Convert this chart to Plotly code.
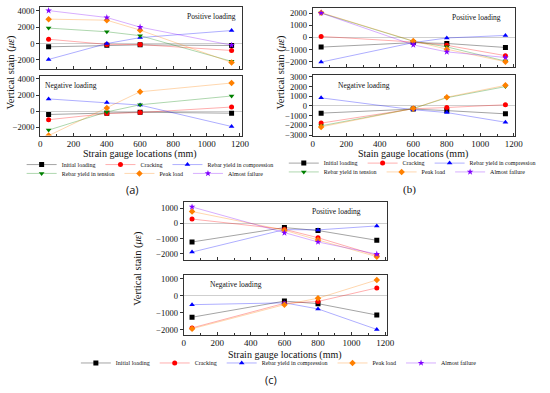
import plotly.graph_objects as go

W, H = 550, 393

# ---------------- data ----------------
x_a = [50, 400, 600, 1150]
x_b = [50, 600, 800, 1150]
x_c = [50, 600, 800, 1150]

series_names = ["Initial loading", "Cracking", "Rebar yield in compression",
                "Rebar yield in tension", "Peak load", "Almost failure"]
series_colors = ["#000000", "#ff0000", "#0000ff", "#008000", "#ff8000", "#8000ff"]
series_lines = ["rgba(0,0,0,0.45)", "rgba(255,0,0,0.4)", "rgba(0,0,255,0.4)",
                "rgba(0,128,0,0.4)", "rgba(255,128,0,0.4)", "rgba(128,0,255,0.4)"]
series_symbols = ["square", "circle", "triangle-up", "triangle-down", "diamond", "star"]

# panel (a) positive loading
a_pos_initial = [-400, -200, -160, -240]
a_pos_cracking = [530, -100, -120, -850]
a_pos_compression = [-1950, 0, 730, 1600]
a_pos_tension = [1900, 1450, 970, -2180]
a_pos_peak = [3000, 2870, 1650, -2320]
a_pos_failure = [4050, 3200, 2020, -200]
# panel (a) negative loading
a_neg_initial = [-400, -240, -120, -240]
a_neg_cracking = [-1040, -280, -160, 520]
a_neg_compression = [1520, 1080, 760, -1880]
a_neg_tension = [-2320, -80, 800, 1880]
a_neg_peak = [-3000, 400, 2400, 3480]

# panel (b) positive loading
b_pos_initial = [-800, -430, -500, -830]
b_pos_cracking = [80, -380, -650, -1500]
b_pos_compression = [-2030, -430, -50, 160]
b_pos_tension = [2000, -320, -780, -1950]
b_pos_peak = [2030, -300, -970, -2000]
b_pos_failure = [2000, -620, -1190, -1650]
# panel (b) negative loading
b_neg_initial = [-740, -320, -480, -810]
b_neg_cracking = [-1770, -290, -160, 130]
b_neg_compression = [840, -390, -680, -1680]
b_neg_tension = [-2050, -260, 850, 2000]
b_neg_peak = [-2160, -260, 900, 2130]

# panel (c) positive loading
c_pos_initial = [-1220, -280, -470, -1110]
c_pos_cracking = [280, -390, -940, -2100]
c_pos_compression = [-1880, -410, -430, -170]
c_pos_peak = [770, -450, -1090, -2180]
c_pos_failure = [1070, -620, -1220, -2010]
# panel (c) negative loading
c_neg_initial = [-1270, -320, -470, -1140]
c_neg_cracking = [-1900, -450, -340, 460]
c_neg_compression = [-530, -420, -780, -1990]
c_neg_peak = [-1950, -530, -150, 930]

y_ticks_a = [-2000, 0, 2000, 4000]
y_ticks_bc = [-3000, -2000, -1000, 0, 1000, 2000, 3000]
x_ticks = [0, 200, 400, 600, 800, 1000, 1200]

# ---------------- layout helpers ----------------
def fx(p):
    return p / W

def fy(p):
    return 1 - p / H

SERIF = "Liberation Serif"

panels = [
    dict(x=x_a,
         pos=[a_pos_initial, a_pos_cracking, a_pos_compression, a_pos_tension, a_pos_peak, a_pos_failure],
         neg=[a_neg_initial, a_neg_cracking, a_neg_compression, a_neg_tension, a_neg_peak, None],
         xd=(39, 244), top=(4, 67), bot=(74.7, 135),
         rtop=[-3100, 4500], rbot=[-3000, 4300], ticks=y_ticks_a,
         legends=["legend", "legend", "legend", "legend2", "legend2", "legend2"],
         xtitle="Strain gauge locations (mm)"),
    dict(x=x_b,
         pos=[b_pos_initial, b_pos_cracking, b_pos_compression, b_pos_tension, b_pos_peak, b_pos_failure],
         neg=[b_neg_initial, b_neg_cracking, b_neg_compression, b_neg_tension, b_neg_peak, None],
         xd=(316.5, 523), top=(5, 65), bot=(73.3, 135),
         rtop=[-2420, 2420], rbot=[-3060, 3200], ticks=y_ticks_bc,
         legends=["legend3", "legend3", "legend3", "legend4", "legend4", "legend4"],
         xtitle="Stain gauge locations (mm)"),
    dict(x=x_c,
         pos=[c_pos_initial, c_pos_cracking, c_pos_compression, None, c_pos_peak, c_pos_failure],
         neg=[c_neg_initial, c_neg_cracking, c_neg_compression, None, c_neg_peak, None],
         xd=(185, 392), top=(202.5, 261.7), bot=(277.3, 337.7),
         rtop=[-2400, 1400], rbot=[-2300, 1200], ticks=y_ticks_bc,
         legends=["legend5"] * 6,
         xtitle="Strain gauge locations (mm)"),
]

fig = go.Figure()
layout = {}
annotations = []

ax_i = 0
for pi, p in enumerate(panels):
    for part in ("pos", "neg"):
        ax_i += 1
        xa = "x" if ax_i == 1 else f"x{ax_i}"
        ya = "y" if ax_i == 1 else f"y{ax_i}"
        xkey = "xaxis" if ax_i == 1 else f"xaxis{ax_i}"
        ykey = "yaxis" if ax_i == 1 else f"yaxis{ax_i}"
        vert = p["top"] if part == "pos" else p["bot"]
        rng = p["rtop"] if part == "pos" else p["rbot"]
        bottom = part == "neg"
        layout[xkey] = dict(
            domain=[fx(p["xd"][0]), fx(p["xd"][1])], anchor=ya,
            range=[0, 1210], tickvals=x_ticks, showticklabels=bottom,
            ticks="inside", ticklen=3, tickwidth=0.8, tickcolor="#333",
            minor=dict(dtick=100, ticks="inside", ticklen=2, tickwidth=0.6, tickcolor="#333"),
            showline=True, mirror=True, linecolor="#333", linewidth=1,
            showgrid=False, zeroline=False,
            tickfont=dict(family=SERIF, size=9, color="#111"),
        )
        layout[ykey] = dict(
            domain=[fy(vert[1]), fy(vert[0])], anchor=xa,
            range=rng, tickvals=p["ticks"],
            ticks="outside", ticklen=3, tickwidth=0.8, tickcolor="#333",
            showline=True, mirror=True, linecolor="#333", linewidth=1,
            showgrid=False, zeroline=True, zerolinecolor="#cfcfcf", zerolinewidth=0.8,
            tickfont=dict(family=SERIF, size=8.5, color="#111"),
        )
        for si in range(6):
            vals = p[part][si]
            if vals is None:
                continue
            fig.add_trace(go.Scatter(
                x=p["x"], y=vals, xaxis=xa, yaxis=ya,
                mode="lines+markers", name=series_names[si],
                line=dict(color=series_lines[si], width=0.8),
                marker=dict(color=series_colors[si], symbol=series_symbols[si],
                            size=5, line=dict(width=0)),
                legend=p["legends"][si], legendgroup=f"p{pi}s{si}",
                showlegend=(part == "pos"),
            ))

layout_common = dict(
    width=W, height=H, margin=dict(l=0, r=0, t=0, b=0),
    paper_bgcolor="white", plot_bgcolor="white",
    font=dict(family=SERIF, color="#111"),
)

leg_font = dict(family=SERIF, size=6, color="#111")
def leg(xp, yp, xanchor="left"):
    return dict(x=fx(xp), y=fy(yp), xanchor=xanchor, yanchor="middle",
                orientation="h", font=leg_font, itemwidth=30,
                bgcolor="rgba(0,0,0,0)", borderwidth=0, tracegroupgap=0)

layout_common["legend"] = leg(20, 164.5)
layout_common["legend2"] = leg(20, 173.5)
layout_common["legend3"] = leg(287, 163)
layout_common["legend4"] = leg(287, 172)
layout_common["legend5"] = leg(282, 366.5, "center")

def ann(text, xp, yp, size, family=SERIF, angle=0, xanchor="center"):
    annotations.append(dict(text=text, x=fx(xp), y=fy(yp), xref="paper", yref="paper",
                            showarrow=False, xanchor=xanchor, yanchor="middle",
                            textangle=angle, font=dict(family=family, size=size, color="#111")))

ann("Positive loading", 213, 14, 7.5)
ann("Negative loading", 70, 84, 7.5)
ann("Positive loading", 483, 15, 7.5)
ann("Negative loading", 369, 84, 7.5)
ann("Positive loading", 341, 212, 7.5)
ann("Negative loading", 238, 287, 7.5)

ytitle = "Vertical stain (<i>με</i>)"
ann(ytitle, 9, 70, 10.5, angle=-90)
ann(ytitle, 284, 70, 10.5, angle=-90)
ann(ytitle, 139, 270, 10.5, angle=-90)

ann(panels[0]["xtitle"], 141, 154, 10)
ann(panels[1]["xtitle"], 419, 154, 10)
ann(panels[2]["xtitle"], 288, 358, 10)

ann("(a)", 133, 190, 11, family="Open Sans")
ann("(b)", 415, 190, 11, family=SERIF)
ann("(c)", 274, 383, 11, family="Open Sans")

layout_common["annotations"] = annotations
fig.update_layout(**layout_common, **layout)

fig.write_html("out.html", config={"displayModeBar": False},
               post_script="document.body.style.margin='0px';")
